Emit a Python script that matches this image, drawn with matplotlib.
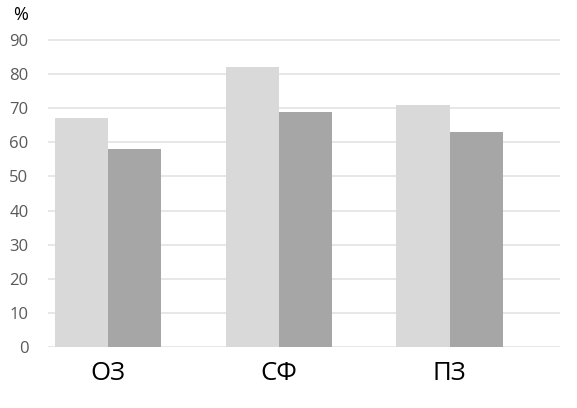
import matplotlib
matplotlib.use("Agg")
import matplotlib.pyplot as plt
import numpy as np

categories = ["ОЗ", "СФ", "ПЗ"]
series_a = [67, 82, 71]
series_b = [58, 69, 63]
yticks = [0, 10, 20, 30, 40, 50, 60, 70, 80, 90]

plt.rcParams['font.family'] = ['Open Sans', 'DejaVu Sans']

W, H = 577, 408
fig = plt.figure(figsize=(W / 100, H / 100), dpi=100)
left, right = 48, 560
bottom_px, top_px = 347, 39
ax = fig.add_axes([left / W, (H - bottom_px) / H, (right - left) / W, (bottom_px - top_px) / H])

x = np.arange(len(categories))
w = 0.312
ax.bar(x - 0.459, series_a, width=w, align='edge', color='#d9d9d9', zorder=2)
ax.bar(x - 0.459 + w, series_b, width=w, align='edge', color='#a6a6a6', zorder=2)

ax.set_xlim(-0.5, 2.5)
ax.set_ylim(0, 90.3)
ax.set_yticks(yticks)
ax.set_yticklabels([str(v) for v in yticks], fontsize=12, color='#595959')
ax.set_xticks(x - 0.459 + w)
ax.set_xticklabels(categories, fontsize=18.5, color='black')
ax.tick_params(axis='y', length=0, pad=14)
ax.tick_params(axis='x', length=0, pad=10)
ax.yaxis.grid(True, color='#e3e3e3', linewidth=1.2, zorder=0)
ax.set_axisbelow(True)
for s in ax.spines.values():
    s.set_visible(False)

fig.text(13 / W, 1 - 15 / H, "%", fontsize=13, color='black', va='center', ha='left')

fig.savefig("out.png", dpi=100, facecolor='white')
